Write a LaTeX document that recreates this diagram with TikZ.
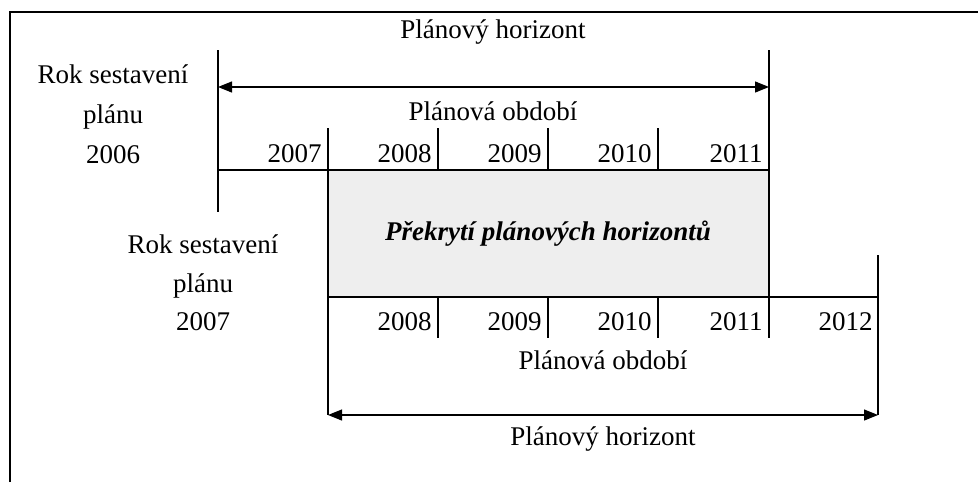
\documentclass[tikz,border=0pt]{standalone}
\usepackage{fontspec}
\setmainfont{Liberation Serif}
\usetikzlibrary{arrows.meta}

\begin{document}
\begin{tikzpicture}[x=0.5pt,y=-0.5pt,
  txt/.style={font=\fontsize{13.5}{16}\selectfont,inner sep=0pt,anchor=base},
  yr/.style={txt,anchor=base east},
  thin/.style={line width=0.6pt},
  span/.style={line width=0.6pt,{Triangle[length=7pt,width=5.5pt]}-{Triangle[length=7pt,width=5.5pt]}}]

\useasboundingbox (0,0) rectangle (978,482);
\draw[line width=1.3pt] (10,482) -- (10,12) -- (978,12);

% grid points
\coordinate (t0) at (218,50);  \coordinate (t0b) at (218,212);
\coordinate (t5) at (769,50);  \coordinate (t5b) at (769,338);
\coordinate (t1) at (328,128); \coordinate (t1b) at (328,415);
\coordinate (t6) at (878,255); \coordinate (t6b) at (878,415);
\coordinate (ha) at (218,87);  \coordinate (hb) at (769,87);

% overlap
\fill[gray!13] (328,170) rectangle (769,297);
\node[txt,font=\fontsize{13.5}{16}\selectfont\bfseries\itshape] (overlap) at (548,240) {Překrytí plánových horizontů};

\draw[thin] (t0) -- (t0b);
\draw[thin] (t5) -- (t5b);
\draw[thin] (t1) -- (t1b);
\draw[thin] (t6) -- (t6b);
\draw[thin] (218,170) -- (769,170);
\draw[thin] (328,297) -- (878,297);
\foreach \x in {438,548,658}{
  \draw[thin] (\x,128) -- (\x,170);
  \draw[thin] (\x,297) -- (\x,338);
}
\draw[span] (ha) -- (hb);
\draw[span] (t1b) -- (t6b);

% plan 2006
\node[txt] (hor1) at (493,38) {Plánový horizont};
\node[txt] (per1) at (493,120) {Plánová období};
\node[txt] (rok1) at (113,83) {Rok sestavení};
\node[txt] (pl1) at (113,123) {plánu};
\node[txt] (y1) at (113,163) {2006};
\node[yr] (a2007) at (322,162) {2007};
\node[yr] (a2008) at (432,162) {2008};
\node[yr] (a2009) at (542,162) {2009};
\node[yr] (a2010) at (652,162) {2010};
\node[yr] (a2011) at (763,162) {2011};

% plan 2007
\node[txt] (rok2) at (203,253) {Rok sestavení};
\node[txt] (pl2) at (203,292) {plánu};
\node[txt] (y2) at (203,330) {2007};
\node[yr] (b2008) at (432,330) {2008};
\node[yr] (b2009) at (542,330) {2009};
\node[yr] (b2010) at (652,330) {2010};
\node[yr] (b2011) at (763,330) {2011};
\node[yr] (b2012) at (873,330) {2012};
\node[txt] (per2) at (603,369) {Plánová období};
\node[txt] (hor2) at (603,445) {Plánový horizont};

\end{tikzpicture}
\end{document}
